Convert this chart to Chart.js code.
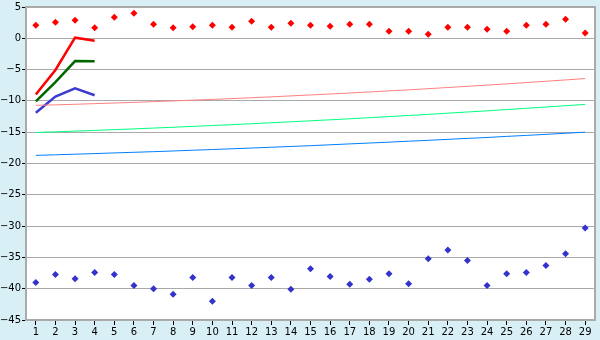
<!DOCTYPE html>
<html>
<head>
<meta charset="utf-8">
<script src="https://cdn.jsdelivr.net/npm/chart.js@4/dist/chart.umd.min.js"></script>
<style>
  html, body { margin: 0; padding: 0; background: #d9eff6; }
  #wrap { width: 600px; height: 340px; }
</style>
</head>
<body>
<div id="wrap"><canvas id="chart" width="600" height="340"></canvas></div>
<script>
const categories = ['1','2','3','4','5','6','7','8','9','10','11','12','13','14','15','16','17','18','19','20','21','22','23','24','25','26','27','28','29'];

// scattered markers
const redPoints = [2.1, 2.57, 2.9, 1.67, 3.36, 4.0, 2.25, 1.67, 1.83, 2.1, 1.78, 2.73, 1.78, 2.41, 2.1, 1.94, 2.25, 2.25, 1.14, 1.14, 0.66, 1.78, 1.78, 1.46, 1.14, 2.1, 2.25, 3.05, 0.83];
const bluePoints = [-39.0, -37.75, -38.4, -37.4, -37.75, -39.5, -40.0, -40.9, -38.2, -42.0, -38.2, -39.5, -38.2, -40.1, -36.8, -38.06, -39.3, -38.5, -37.6, -39.2, -35.2, -33.8, -35.5, -39.5, -37.6, -37.4, -36.3, -34.4, -30.3];

// short thick lines (first four categories only)
const redLine = [-8.97, -5.05, 0.1, -0.4];
const greenLine = [-10.08, -7.0, -3.63, -3.65];
const blueLine = [-11.9, -9.3, -8.0, -9.1];

// long thin lines
const pinkTrend = [-10.71, -10.63, -10.54, -10.44, -10.34, -10.23, -10.12, -10.0, -9.88, -9.76, -9.63, -9.49, -9.35, -9.2, -9.05, -8.9, -8.74, -8.57, -8.4, -8.23, -8.05, -7.86, -7.67, -7.48, -7.28, -7.07, -6.86, -6.65, -6.43];
const greenTrend = [-15.05, -14.94, -14.83, -14.71, -14.59, -14.47, -14.34, -14.21, -14.07, -13.94, -13.79, -13.65, -13.49, -13.34, -13.18, -13.02, -12.86, -12.68, -12.51, -12.33, -12.15, -11.96, -11.77, -11.59, -11.38, -11.18, -10.97, -10.77, -10.56];
const blueTrend = [-18.7, -18.61, -18.51, -18.42, -18.31, -18.21, -18.11, -18.0, -17.88, -17.77, -17.65, -17.53, -17.4, -17.28, -17.15, -17.01, -16.87, -16.73, -16.59, -16.44, -16.3, -16.14, -15.99, -15.84, -15.67, -15.51, -15.34, -15.17, -15.0];

const yMin = -45;
const yMax = 5;
const yStep = 5;

function thinLine(data, color) {
  return { type: 'line', data, borderColor: color, borderWidth: 1, pointRadius: 0, tension: 0, fill: false };
}

function thickLine(data, color) {
  return { type: 'line', data, borderColor: color, borderWidth: 2.5, pointRadius: 0, tension: 0, fill: false };
}

function markers(data, color) {
  return {
    type: 'line', data, showLine: false,
    pointStyle: 'rectRot', pointRadius: 3.5,
    pointBackgroundColor: color, pointBorderColor: color, pointBorderWidth: 0
  };
}

const plotFrame = {
  id: 'plotFrame',
  beforeDraw(chart) {
    const { ctx, chartArea: a } = chart;
    ctx.save();
    ctx.fillStyle = '#ffffff';
    ctx.fillRect(a.left, a.top, a.right - a.left, a.bottom - a.top);
    ctx.restore();
  },
  afterDraw(chart) {
    const { ctx, chartArea: a } = chart;
    ctx.save();
    ctx.strokeStyle = '#aaaaaa';
    ctx.lineWidth = 2;
    ctx.beginPath();
    ctx.moveTo(a.left, a.top);
    ctx.lineTo(a.right, a.top);
    ctx.lineTo(a.right, a.bottom);
    ctx.stroke();
    ctx.restore();
  }
};

const fmt = v => (v < 0 ? '\u2212' + Math.abs(v) : String(v));

new Chart(document.getElementById('chart'), {
  data: {
    labels: categories,
    datasets: [
      thinLine(pinkTrend, '#ff8080'),
      thinLine(greenTrend, '#00ff80'),
      thinLine(blueTrend, '#0080ff'),
      thickLine(redLine, '#ff0000'),
      thickLine(greenLine, '#006600'),
      thickLine(blueLine, '#3c3cd0'),
      markers(redPoints, '#ff0000'),
      markers(bluePoints, '#3333cc')
    ]
  },
  options: {
    responsive: false,
    animation: false,
    layout: { padding: { top: 5, right: 5, left: 0, bottom: 0 } },
    plugins: {
      legend: { display: false },
      tooltip: { enabled: false }
    },
    scales: {
      x: {
        type: 'category',
        offset: true,
        afterFit(scale) { scale.height = 20; },
        grid: { drawOnChartArea: false, drawTicks: true, tickLength: 5, tickColor: '#000000', offset: false },
        border: { color: '#aaaaaa', width: 2 },
        ticks: { color: '#000000', padding: 1, maxRotation: 0, autoSkip: false, font: { family: 'DejaVu Sans', size: 10 } }
      },
      y: {
        min: yMin,
        max: yMax,
        afterFit(scale) { scale.width = 26; },
        grid: { color: '#aaaaaa', lineWidth: 1, tickLength: 4, tickColor: '#000000' },
        border: { color: '#aaaaaa', width: 2 },
        ticks: { stepSize: yStep, color: '#000000', padding: 1, callback: fmt, font: { family: 'DejaVu Sans', size: 10 } }
      }
    }
  },
  plugins: [plotFrame]
});
</script>
</body>
</html>
